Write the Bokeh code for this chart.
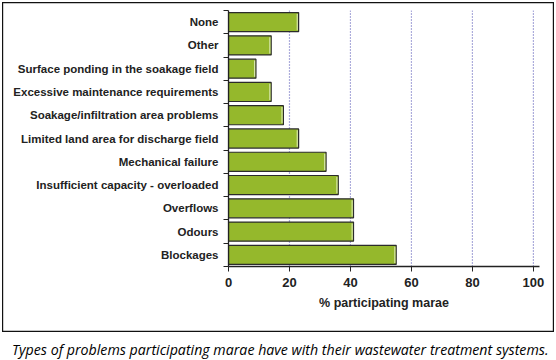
from bokeh.plotting import figure
from bokeh.models import Range1d, LinearAxis, FixedTicker, ColumnDataSource, Div, InlineStyleSheet
from bokeh.layouts import column
from bokeh.embed import file_html
from bokeh.resources import INLINE

categories = ["None", "Other", "Surface ponding in the soakage field",
              "Excessive maintenance requirements", "Soakage/infiltration area problems",
              "Limited land area for discharge field", "Mechanical failure",
              "Insufficient capacity - overloaded", "Overflows", "Odours", "Blockages"]
values = [23, 14, 9, 14, 18, 23, 32, 36, 41, 41, 55]
x_ticks = [0, 20, 40, 60, 80, 100]
x_label = "% participating marae"
caption = "Types of problems participating marae have with their wastewater treatment systems."

n = len(categories)
pos = [n - 1 - i + 0.5 for i in range(n)]
src = ColumnDataSource(dict(y=pos, v=values, hl=[v - 0.45 for v in values], cat=categories))
grid_src = ColumnDataSource(dict(x=x_ticks[1:], y0=[0] * (len(x_ticks) - 1), y1=[n] * (len(x_ticks) - 1)))

p = figure(width=556, height=334, output_backend="svg", toolbar_location=None,
           x_range=Range1d(0, 102), y_range=Range1d(0, n),
           min_border_left=228, min_border_right=17, min_border_top=10, min_border_bottom=68,
           x_axis_location=None, y_axis_location=None)
p.outline_line_color = None
p.background_fill_color = "white"
p.border_fill_color = None
box_css = "inset 0 0 0 2px white, inset 0 0 0 3.2px #111111"
p.styles = {"box-shadow": box_css, "background-color": "white"}
p.stylesheets = [InlineStyleSheet(css=":host { box-shadow: %s; background-color: white; }" % box_css)]

p.xgrid.grid_line_color = None
p.ygrid.grid_line_color = None
p.segment(x0="x", x1="x", y0="y0", y1="y1", source=grid_src,
          line_color="#5a5ab8", line_dash="1 2", line_width=1.2)

p.hbar(y="y", right="v", left=0, height=0.82, source=src,
       fill_color="#95B82C", line_color="#2b2b2b", line_width=1.2)
p.hbar(y="y", right="hl", left="hl", height=0.7, source=src,
       fill_color=None, line_color="#d6e6a8", line_width=1.2)

xa = LinearAxis(ticker=FixedTicker(ticks=x_ticks, minor_ticks=[]))
xa.axis_label = x_label
xa.axis_line_color = "#222222"
xa.axis_line_width = 1.3
xa.major_tick_in = 0
xa.major_tick_out = 5
xa.major_tick_line_color = "#222222"
xa.major_label_text_font = "Liberation Sans"
xa.major_label_text_font_style = "bold"
xa.major_label_text_font_size = "13px"
xa.major_label_text_color = "#222222"
xa.major_label_standoff = 6
xa.axis_label_text_font = "Liberation Sans"
xa.axis_label_text_font_style = "bold"
xa.axis_label_text_font_size = "12.5px"
xa.axis_label_text_color = "#222222"
xa.axis_label_standoff = 6
p.add_layout(xa, "below")

ya = LinearAxis(ticker=FixedTicker(ticks=pos, minor_ticks=list(range(n + 1))))
ya.major_label_overrides = {y: c for y, c in zip(pos, categories)}
ya.axis_line_color = "#222222"
ya.axis_line_width = 1.3
ya.major_tick_line_color = None
ya.major_tick_in = 0
ya.major_tick_out = 0
ya.minor_tick_in = 0
ya.minor_tick_out = 5
ya.minor_tick_line_color = "#222222"
ya.major_label_standoff = 5
ya.major_label_text_font = "Liberation Sans"
ya.major_label_text_font_style = "bold"
ya.major_label_text_font_size = "11.5px"
ya.major_label_text_color = "#222222"
p.add_layout(ya, "left")

cap = Div(text='<span style="font-family: \'Open Sans\'; font-style: italic; font-size: 14.2px; '
               'color: black; white-space: nowrap;">' + caption + '</span>',
          width=556, height=26,
          styles={"padding-left": "7px", "padding-top": "1px", "box-sizing": "border-box"})

layout = column(p, cap, spacing=0)
open("out.html", "w").write(file_html(layout, INLINE))
